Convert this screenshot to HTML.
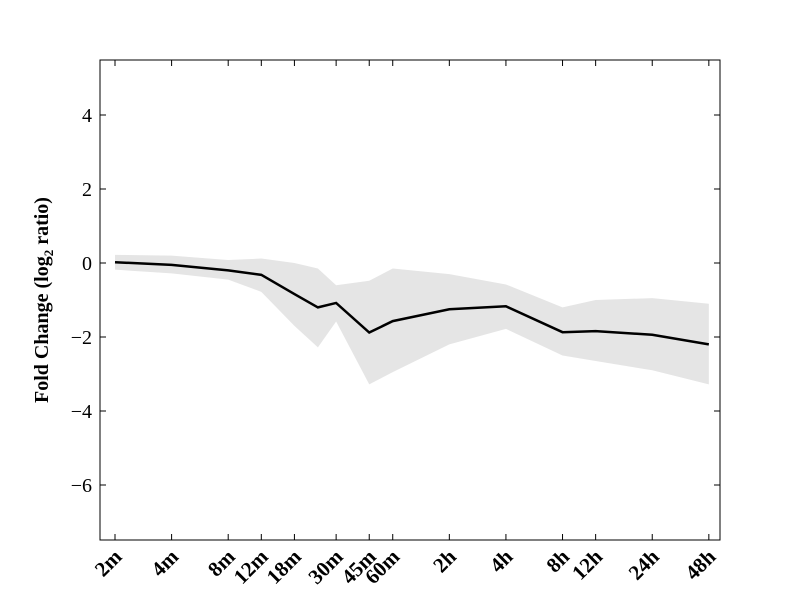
<!DOCTYPE html>
<html><head><meta charset="utf-8"><style>
body{margin:0;background:#fff;}
svg text{font-family:"Liberation Serif",serif;}
</style></head><body>
<svg id="chart" width="800" height="600">
<rect x="0" y="0" width="800" height="600" fill="#fff"/>
<g id="band-g"></g><g id="line-g"></g><g id="axes-g"></g>
</svg>
<script>
const timesMin = [2,4,8,12,18,24,30,45,60,120,240,480,720,1440,2880];
const meanVals = [0.02,-0.05,-0.2,-0.32,-0.84,-1.2,-1.08,-1.88,-1.57,-1.25,-1.17,-1.87,-1.84,-1.94,-2.2];
const upperVals = [0.22,0.2,0.08,0.12,0.0,-0.15,-0.6,-0.48,-0.15,-0.3,-0.58,-1.2,-1.0,-0.95,-1.1];
const lowerVals = [-0.18,-0.28,-0.45,-0.78,-1.7,-2.28,-1.58,-3.28,-2.95,-2.2,-1.78,-2.5,-2.65,-2.9,-3.28];
const xTickMin = [2,4,8,12,18,30,45,60,120,240,480,720,1440,2880];
const xTickLabels = ["2m","4m","8m","12m","18m","30m","45m","60m","2h","4h","8h","12h","24h","48h"];
const yTicks = [-6,-4,-2,0,2,4];

const L=100,R=720,T=60,B=540;
function xs(m){return 115+(Math.log2(m)-1)*56.6;}
function ys(v){return 263-v*37;}
const NS="http://www.w3.org/2000/svg";
function mk(tag,attrs,parent){const e=document.createElementNS(NS,tag);for(const k in attrs)e.setAttribute(k,attrs[k]);parent.appendChild(e);return e;}

let pts=timesMin.map((m,i)=>xs(m)+","+ys(upperVals[i]));
for(let i=timesMin.length-1;i>=0;i--)pts.push(xs(timesMin[i])+","+ys(lowerVals[i]));
const band=mk("polygon",{points:pts.join(" "),fill:"#e5e5e5",stroke:"none"},document.getElementById("band-g"));



const line=mk("polyline",{points:timesMin.map((m,i)=>xs(m)+","+ys(meanVals[i])).join(" "),fill:"none",stroke:"#000","stroke-width":2.5},document.getElementById("line-g"));



const ax=document.getElementById("axes-g");
const frame=mk("rect",{x:L,y:T,width:R-L,height:B-T,fill:"none",stroke:"#000","stroke-width":1},ax);


yTicks.forEach(v=>{
  const y=ys(v);
  mk("line",{x1:L,x2:L+6,y1:y,y2:y,stroke:"#000"},ax);
  mk("line",{x1:R,x2:R-6,y1:y,y2:y,stroke:"#000"},ax);
  const t=mk("text",{x:L-8,y:y+7,"text-anchor":"end","font-size":20},ax);
  t.textContent=v<0?"\u2212"+Math.abs(v):String(v);
  
  
});
xTickMin.forEach((m,i)=>{
  const x=xs(m);
  mk("line",{x1:x,x2:x,y1:B,y2:B-6,stroke:"#000"},ax);
  mk("line",{x1:x,x2:x,y1:T,y2:T+6,stroke:"#000"},ax);
  const ax0=x+8, ay0=B+18;
  const t=mk("text",{x:ax0,y:ay0,"text-anchor":"end","font-size":21,"font-weight":"bold",transform:"rotate(-45 "+ax0+" "+ay0+")"},ax);
  t.textContent=xTickLabels[i];
  
  
});
const yl=mk("text",{x:0,y:0,"text-anchor":"middle","font-size":20,"font-weight":"bold",transform:"translate(48 300) rotate(-90)"},ax);
yl.innerHTML='Fold Change (log<tspan font-size="13" dy="5">2</tspan><tspan dy="-5"> ratio)</tspan>';


</script>
</body></html>
